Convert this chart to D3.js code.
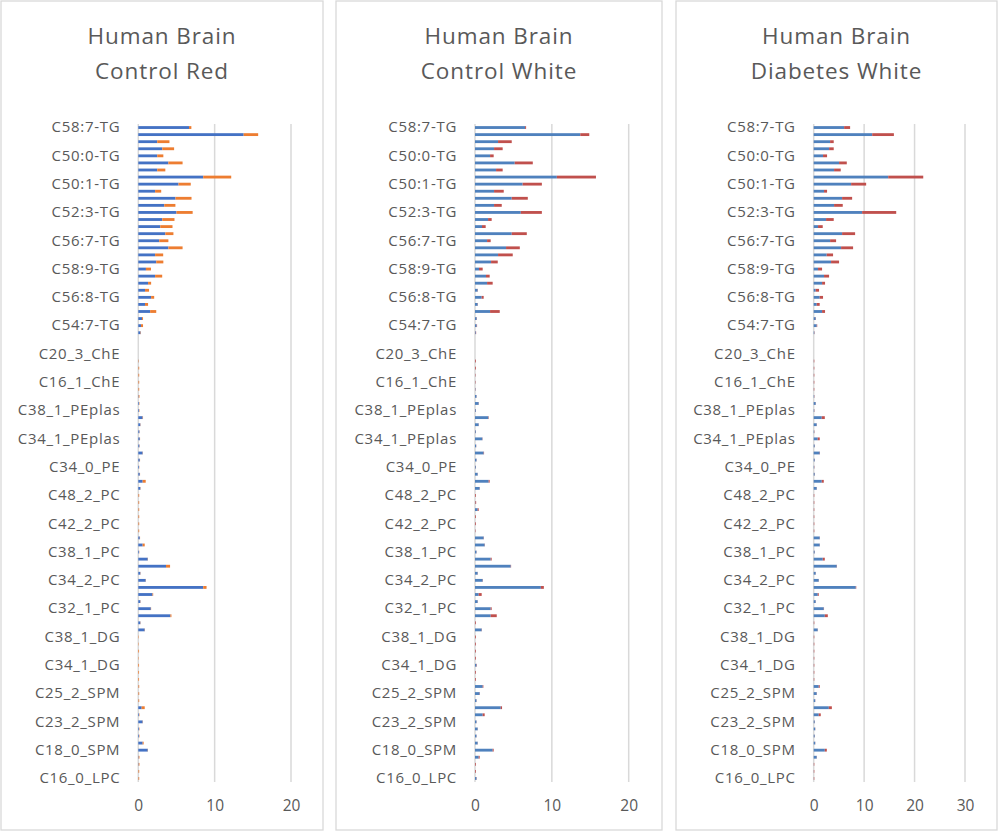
<!DOCTYPE html>
<html>
<head>
<meta charset="utf-8">
<script src="https://cdn.jsdelivr.net/npm/d3@7"></script>
<style>
  body { margin: 0; background: #fff; }
  svg text { font-family: "Open Sans", "Noto Sans", sans-serif; fill: #595959; }
</style>
</head>
<body>
<svg id="chart" width="998" height="832"></svg>
<script>
// categories, top to bottom as drawn (only every 4th one gets a label)
const categories = [
  "C58:7-TG", "C56:6-TG", "C54:5-TG", "C52:4-TG", "C50:0-TG", "C52:1-TG", "C48:0-TG", "C52:2-TG",
  "C50:1-TG", "C50:2-TG", "C54:3-TG", "C54:4-TG", "C52:3-TG", "C54:6-TG", "C56:5-TG", "C54:2-TG",
  "C56:7-TG", "C56:4-TG", "C56:3-TG", "C56:2-TG", "C58:9-TG", "C58:8-TG", "C56:9-TG", "C58:6-TG",
  "C56:8-TG", "C58:10-TG", "C54:1-TG", "C52:5-TG", "C54:7-TG", "C52:6-TG", "C50:3-TG", "C48:1-TG",
  "C20_3_ChE", "C22_6_ChE", "C20_4_ChE", "C18_2_ChE", "C16_1_ChE", "C18_1_ChE", "C40_6_PEplas", "C40_4_PEplas",
  "C38_1_PEplas", "C38_4_PEplas", "C36_2_PEplas", "C36_1_PEplas", "C34_1_PEplas", "C40_6_PE", "C38_4_PE", "C36_1_PE",
  "C34_0_PE", "C34_1_PE", "C40_6_PC", "C38_6_PC", "C48_2_PC", "C46_2_PC", "C44_2_PC", "C44_1_PC",
  "C42_2_PC", "C42_1_PC", "C40_1_PC", "C38_4_PC", "C38_1_PC", "C36_2_PC", "C36_1_PC", "C34_0_PC",
  "C34_2_PC", "C34_1_PC", "C32_0_PC", "C32_2_PC", "C32_1_PC", "C30_0_PC", "C40_6_DG", "C36_1_DG",
  "C38_1_DG", "C36_2_DG", "C34_2_DG", "C34_0_DG", "C34_1_DG", "C32_0_DG", "C26_1_SPM", "C24_1_SPM",
  "C25_2_SPM", "C24_0_SPM", "C22_0_SPM", "C23_1_SPM", "C23_2_SPM", "C22_1_SPM", "C20_0_SPM", "C18_1_SPM",
  "C18_0_SPM", "C16_0_SPM", "C18_1_LPC", "C18_0_LPC", "C16_0_LPC"
];

// Control Red
const controlRedMean = [
  6.64, 13.8, 2.48, 3.14, 2.48, 3.94, 2.48, 8.5, 5.27, 2.2, 4.87, 3.4, 5.0, 3.14, 2.88, 3.54,
  2.74, 3.94, 2.2, 2.35, 1.0, 2.2, 1.28, 0.88, 1.68, 0.88, 1.55, 0.49, 0.35, 0.3, 0, 0,
  0, 0.02, 0.02, 0.02, 0.02, 0.02, 0.05, 0.1, 0.1, 0.57, 0.27, 0.15, 0.2, 0.15, 0.57, 0.2,
  0.1, 0.2, 0.57, 0.27, 0.02, 0.02, 0.02, 0.02, 0.02, 0.02, 0.2, 0.57, 0.1, 1.24, 3.63, 0.27,
  0.97, 8.5, 1.86, 0.27, 1.64, 4.2, 0.27, 0.84, 0, 0, 0, 0, 0, 0, 0, 0.02,
  0.02, 0.02, 0.44, 0.1, 0.57, 0.1, 0.1, 0.57, 1.24, 0.05, 0.05, 0.02, 0.02
];
const controlRedErr = [
  0.31, 1.9, 1.6, 1.55, 0.8, 1.86, 1.06, 3.67, 1.6, 0.8, 2.1, 1.46, 2.12, 1.6, 1.6, 1.06,
  1.2, 1.86, 1.06, 0.93, 0.66, 0.93, 0.4, 0.53, 0.4, 0.4, 0.8, 0.13, 0.27, 0.05, 0, 0,
  0, 0.05, 0.1, 0.1, 0.1, 0.1, 0.1, 0.05, 0.05, 0.05, 0.03, 0.03, 0.03, 0.03, 0.03, 0.03,
  0.03, 0.03, 0.4, 0.03, 0.1, 0.1, 0.1, 0.1, 0.1, 0.1, 0.03, 0.27, 0.03, 0.03, 0.53, 0.03,
  0.03, 0.44, 0.09, 0.03, 0.04, 0.14, 0.03, 0.03, 0.05, 0.05, 0.1, 0.05, 0.1, 0.1, 0.1, 0.1,
  0.1, 0.1, 0.4, 0.05, 0.03, 0.05, 0.05, 0.13, 0.03, 0.1, 0.1, 0.1, 0.1
];

// Control White
const controlWhiteMean = [
  6.52, 13.7, 3.0, 2.48, 1.96, 5.17, 2.74, 10.65, 6.2, 2.48, 4.78, 2.48, 5.96, 1.7, 0.91, 4.78,
  1.57, 4.04, 3.0, 2.09, 0.52, 1.43, 1.57, 0.35, 0.87, 0.35, 1.96, 0.22, 0.22, 0.1, 0, 0,
  0, 0.02, 0.02, 0.02, 0.02, 0.05, 0.2, 0.48, 0.1, 1.74, 0.48, 0.1, 0.96, 0.15, 1.13, 0.2,
  0.1, 0.35, 1.78, 0.61, 0.02, 0.05, 0.35, 0.02, 0.02, 0.02, 1.13, 1.26, 0.2, 2.04, 4.65, 0.35,
  1.0, 8.57, 0.48, 0.35, 2.04, 2.04, 0.02, 0.87, 0.02, 0.02, 0.02, 0.02, 0.2, 0.02, 0.02, 1.0,
  0.61, 0.2, 3.35, 1.0, 0.2, 0.35, 0.2, 0.35, 2.3, 0.48, 0.02, 0.02, 0.2
];
const controlWhiteErr = [
  0.13, 1.17, 1.78, 1.12, 0.47, 2.35, 0.86, 5.09, 2.5, 1.26, 2.09, 1.0, 2.74, 0.47, 0.48, 1.96,
  0.47, 1.79, 1.91, 0.87, 0.48, 0.48, 0.73, 0.03, 0.26, 0.03, 1.26, 0.03, 0.05, 0.05, 0, 0,
  0, 0.1, 0.1, 0.05, 0.05, 0.03, 0.02, 0.02, 0.02, 0.05, 0.02, 0.02, 0.03, 0.02, 0.05, 0.02,
  0.02, 0.02, 0.13, 0.02, 0.1, 0.1, 0.13, 0.1, 0.1, 0.05, 0.03, 0.03, 0.02, 0.13, 0.05, 0.02,
  0.03, 0.39, 0.39, 0.02, 0.13, 0.79, 0.1, 0.03, 0.1, 0.1, 0.1, 0.1, 0.05, 0.1, 0.1, 0.09,
  0.03, 0.02, 0.17, 0.26, 0.02, 0.02, 0.02, 0.02, 0.13, 0.13, 0.1, 0.1, 0.03
];

// Diabetes White
const diabetesWhiteMean = [
  6.03, 11.6, 3.25, 3.05, 1.85, 5.03, 4.04, 14.77, 7.42, 2.05, 5.63, 4.04, 9.6, 2.45, 0.86, 5.63,
  3.25, 5.43, 2.58, 3.44, 0.86, 2.05, 1.66, 0.4, 1.19, 0.6, 1.66, 0.4, 0.6, 0.13, 0, 0,
  0, 0.02, 0.02, 0.02, 0.02, 0.02, 0.1, 0.4, 0.1, 1.6, 0.6, 0.1, 0.8, 0.2, 1.2, 0.2,
  0.1, 0.2, 1.6, 0.6, 0.02, 0.02, 0.02, 0.02, 0.02, 0.02, 1.2, 1.2, 0.2, 1.8, 4.57, 0.4,
  1.0, 8.34, 0.8, 0.4, 2.0, 2.2, 0.02, 0.8, 0.02, 0.02, 0.02, 0.02, 0.02, 0.02, 0.02, 1.0,
  0.6, 0.3, 3.0, 1.0, 0.2, 0.3, 0.2, 0.3, 2.2, 0.6, 0.02, 0.02, 0.02
];
const diabetesWhiteErr = [
  1.19, 4.3, 0.72, 0.92, 0.8, 1.53, 1.32, 6.95, 2.98, 0.6, 1.99, 1.72, 6.76, 1.52, 0.93, 2.58,
  1.19, 2.38, 1.26, 1.59, 0.8, 1.0, 0.59, 0.66, 0.66, 0.59, 0.59, 0.05, 0.1, 0.05, 0, 0,
  0, 0.1, 0.1, 0.1, 0.1, 0.1, 0.05, 0.03, 0.05, 0.6, 0.03, 0.05, 0.4, 0.03, 0.05, 0.03,
  0.05, 0.03, 0.4, 0.03, 0.1, 0.1, 0.1, 0.1, 0.1, 0.1, 0.03, 0.03, 0.03, 0.4, 0.05, 0.03,
  0.03, 0.1, 0.2, 0.03, 0.05, 0.6, 0.1, 0.03, 0.1, 0.1, 0.1, 0.1, 0.1, 0.1, 0.1, 0.2,
  0.03, 0.03, 0.6, 0.4, 0.03, 0.03, 0.03, 0.03, 0.4, 0.03, 0.1, 0.1, 0.1
];

const titles = [
  ["Human Brain", "Control Red"],
  ["Human Brain", "Control White"],
  ["Human Brain", "Diabetes White"]
];
const xTicks = [[0, 10, 20], [0, 10, 20], [0, 10, 20, 30]];

// layout of the three chart boxes
const panels = [
  { box: [1, 323], plot: [138.3, 291], mean: controlRedMean, err: controlRedErr, colors: ["#4472C4", "#ED7D31"] },
  { box: [336, 662], plot: [475, 628.7], mean: controlWhiteMean, err: controlWhiteErr, colors: ["#4F81BD", "#C0504D"] },
  { box: [676, 997], plot: [813.7, 965], mean: diabetesWhiteMean, err: diabetesWhiteErr, colors: ["#4F81BD", "#C0504D"] }
];

const plotTop = 124, plotBottom = 782;
const svg = d3.select("#chart");

const y = d3.scaleBand()
  .domain(categories)
  .range([plotTop, plotBottom])
  .paddingInner(0.6)
  .paddingOuter(0.3);

panels.forEach((p, i) => {
  const g = svg.append("g");

  g.append("rect")
    .attr("x", p.box[0]).attr("y", 1)
    .attr("width", p.box[1] - p.box[0]).attr("height", 829)
    .attr("fill", "#fff").attr("stroke", "#d9d9d9").attr("stroke-width", 1.3);

  const cx = (p.box[0] + p.box[1]) / 2;
  g.selectAll(".title").data(titles[i]).join("text")
    .attr("x", cx).attr("y", (d, k) => 44 + k * 35)
    .attr("text-anchor", "middle")
    .style("font-size", "22.5px")
    .style("letter-spacing", "0.9px")
    .text(d => d);

  const ticks = xTicks[i];
  const x = d3.scaleLinear().domain([0, d3.max(ticks)]).range(p.plot);

  g.selectAll(".grid").data(ticks).join("line")
    .attr("x1", d => x(d)).attr("x2", d => x(d))
    .attr("y1", plotTop).attr("y2", plotBottom)
    .attr("stroke", "#d9d9d9").attr("stroke-width", 1.5);

  const rows = categories.map((c, k) => ({ cat: c, mean: p.mean[k], err: p.err[k] }));
  const stacked = d3.stack().keys(["mean", "err"])(rows);

  g.selectAll(".series").data(stacked).join("g")
    .attr("fill", (d, k) => p.colors[k])
    .selectAll("rect").data(d => d).join("rect")
    .attr("x", d => x(d[0]))
    .attr("y", d => y(d.data.cat))
    .attr("width", d => Math.max(0, x(d[1]) - x(d[0])))
    .attr("height", y.bandwidth());

  // category axis, every 4th label
  const yAxis = d3.axisLeft(y)
    .tickValues(categories.filter((c, k) => k % 4 === 0))
    .tickSize(0).tickPadding(18);
  const ya = g.append("g").attr("transform", `translate(${p.plot[0]},0)`).call(yAxis);
  ya.select(".domain").remove();
  ya.selectAll("text")
    .style("font-size", "15px").style("letter-spacing", "0.7px")
    .attr("fill", null);

  const xAxis = d3.axisBottom(x).tickValues(ticks).tickSize(0).tickPadding(18);
  const xa = g.append("g").attr("transform", `translate(0,${plotBottom})`).call(xAxis);
  xa.select(".domain").remove();
  xa.selectAll("text").style("font-size", "15.5px").attr("fill", null);
});
</script>
</body>
</html>
